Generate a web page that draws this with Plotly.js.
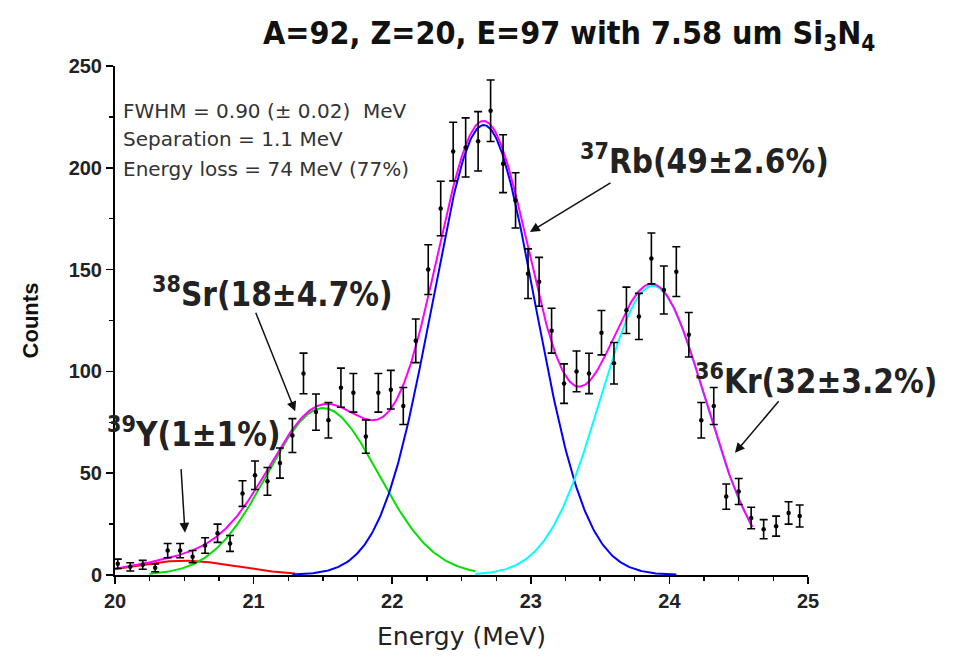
<!DOCTYPE html>
<html>
<head>
<meta charset="utf-8">
<script src="https://cdn.plot.ly/plotly-3.0.1.min.js"></script>
<style>
  html, body { margin: 0; padding: 0; background: #fff; }
  #chart { width: 955px; height: 661px; }
</style>
</head>
<body>
<div id="chart"></div>
<script>
// ---- measured spectrum (counts per bin) ----
const energy = [20.02, 20.11, 20.20, 20.29, 20.38, 20.47, 20.56, 20.65, 20.74, 20.83,
                20.92, 21.01, 21.10, 21.19, 21.28, 21.36, 21.45, 21.54, 21.63, 21.72,
                21.81, 21.90, 21.99, 22.08, 22.17, 22.26, 22.35, 22.44, 22.53, 22.62,
                22.71, 22.80, 22.89, 22.98, 23.06, 23.15, 23.24, 23.33, 23.42, 23.51,
                23.60, 23.69, 23.78, 23.87, 23.96, 24.05, 24.14, 24.23, 24.32, 24.41,
                24.50, 24.59, 24.68, 24.77, 24.86, 24.94];
const counts = [5.5, 4, 5, 3.5, 12, 12, 9, 14.5, 20.5, 15.5,
                40, 49, 46, 55, 68.5, 99, 80, 76, 92, 89.5,
                68, 89.5, 91, 83, 115, 150, 180, 208, 210, 213,
                228, 202, 184, 148, 144, 120, 94, 100, 99, 119,
                104, 130, 127, 155.5, 140, 149, 118, 76, 83, 38.5,
                41, 28, 22.5, 24, 30.5, 29];
const countErr = [2.3, 2.0, 2.2, 1.9, 3.5, 3.5, 3.0, 3.8, 4.5, 3.9,
                  6.3, 7.0, 6.8, 7.4, 8.3, 10.0, 8.9, 8.7, 9.6, 9.5,
                  8.2, 9.5, 9.5, 9.1, 10.7, 12.2, 13.4, 14.4, 14.5, 14.6,
                  15.1, 14.2, 13.6, 12.2, 12.0, 11.0, 9.7, 10.0, 9.9, 10.9,
                  10.2, 11.4, 11.3, 12.5, 11.8, 12.2, 10.9, 8.7, 9.1, 6.2,
                  6.4, 5.3, 4.7, 4.9, 5.5, 5.4];

// ---- Gaussian fit components ----
const compNames  = ['39Y', '38Sr', '37Rb', '36Kr'];
const compCenter = [20.50, 21.50, 22.66, 23.88];
const compSigma  = [0.38, 0.40, 0.37, 0.38];
const compAmp    = [7.0, 82, 221, 142];
const compStart  = [20.0, 20.25, 21.28, 22.60];
const compEnd    = [21.3, 22.60, 24.05, 24.60];
const totalStart = 20.0, totalEnd = 24.6;

// ---- labels ----
const titleText = 'A=92, Z=20, E=97 with 7.58 um Si<sub>3</sub>N<sub>4</sub>';
const xTitle = 'Energy (MeV)';
const yTitle = 'Counts';
const infoLines = ['FWHM = 0.90 (\u00b1 0.02)  MeV', 'Separation = 1.1 MeV', 'Energy loss = 74 MeV (77%)'];
const peakLabels = ['<sup>39</sup>Y(1\u00b11%)', '<sup>38</sup>Sr(18\u00b14.7%)',
                    '<sup>37</sup>Rb(49\u00b12.6%)', '<sup>36</sup>Kr(32\u00b13.2%)'];

// styles
const compColors = ['#ff0000', '#00e000', '#0000ff', '#00ffff'];
const totalColor = '#ff00ff';
const narrow = '"Liberation Sans Narrow", "Arial Narrow", "DejaVu Sans Condensed", sans-serif';
const arial = '"Liberation Sans", Arial, sans-serif';
const dejavu = '"DejaVu Sans", sans-serif';

function gauss(x, i) {
  const d = (x - compCenter[i]) / compSigma[i];
  return compAmp[i] * Math.exp(-0.5 * d * d);
}
function sampleRange(a, b, n) {
  const xs = [];
  for (let k = 0; k <= n; k++) xs.push(a + (b - a) * k / n);
  return xs;
}

const traces = [];
for (let i = 0; i < compNames.length; i++) {
  const xs = sampleRange(compStart[i], compEnd[i], 300);
  traces.push({
    x: xs, y: xs.map(x => gauss(x, i)), type: 'scatter', mode: 'lines',
    name: compNames[i], line: {color: compColors[i], width: 2}, hoverinfo: 'skip'
  });
}
const tx = sampleRange(totalStart, totalEnd, 600);
traces.push({
  x: tx, y: tx.map(x => compNames.reduce((s, _, i) => s + gauss(x, i), 0)),
  type: 'scatter', mode: 'lines', name: 'Sum',
  line: {color: totalColor, width: 2}, hoverinfo: 'skip'
});
traces.push({
  x: energy, y: counts, type: 'scatter', mode: 'markers', name: 'Data',
  marker: {color: '#000', size: 4.5},
  error_y: {type: 'data', array: countErr, visible: true, color: '#000', thickness: 1.6, width: 4}
});

// annotation positions
const infoX = 20.04, infoY = [228, 214, 199.5];
const labelRef = ['paper', 'x', 'x', 'x'];
const labelX = [-0.0144, 20.25, 23.34, 24.17];
const labelY = [70, 139, 204, 96];
const arrowHeadX = [20.505, 21.30, 22.994, 24.473];
const arrowHeadY = [20.8, 80.4, 168.5, 60];
const arrowAx = [-4, -40, 82, 45];
const arrowAy = [-65, -100, -50, -53];

const annotations = [];
infoLines.forEach((t, k) => annotations.push({
  x: infoX, y: infoY[k], xref: 'x', yref: 'y', text: t, showarrow: false,
  xanchor: 'left', yanchor: 'middle', font: {family: dejavu, size: 20, color: '#333'}
}));
peakLabels.forEach((t, k) => annotations.push({
  x: labelX[k], y: labelY[k], xref: labelRef[k], yref: 'y', text: t, showarrow: false,
  xanchor: 'left', yanchor: 'middle', font: {family: narrow, size: 33, color: '#222', weight: 'bold'}
}));
arrowHeadX.forEach((x, k) => annotations.push({
  x: x, y: arrowHeadY[k], xref: 'x', yref: 'y', text: '', showarrow: true,
  ax: arrowAx[k], ay: arrowAy[k], arrowhead: 2, arrowsize: 1.3, arrowwidth: 1.5, arrowcolor: '#111'
}));

const axisCommon = {
  showgrid: false, zeroline: false, showline: true, linecolor: '#000', linewidth: 2,
  ticks: 'outside', ticklen: 7, tickwidth: 1.6, tickcolor: '#000', mirror: false,
  tickfont: {family: arial, size: 20, color: '#222', weight: 'bold'}
};

const layout = {
  width: 955, height: 661,
  margin: {l: 115, r: 147, t: 66, b: 86},
  paper_bgcolor: '#fff', plot_bgcolor: '#fff',
  showlegend: false,
  title: {
    text: titleText, xref: 'container', yref: 'container', x: 0.596, y: 0.95,
    xanchor: 'center', yanchor: 'middle',
    font: {family: narrow, size: 32, color: '#111', weight: 'bold'}
  },
  xaxis: Object.assign({}, axisCommon, {
    range: [20, 25], dtick: 1, tick0: 20,
    minor: {dtick: 0.25, ticks: 'outside', ticklen: 4, tickwidth: 1.3, tickcolor: '#000'},
    title: {text: xTitle, standoff: 16, font: {family: dejavu, size: 25, color: '#222'}}
  }),
  yaxis: Object.assign({}, axisCommon, {
    range: [0, 250], dtick: 50, tick0: 0,
    minor: {dtick: 25, ticks: 'outside', ticklen: 4, tickwidth: 1.3, tickcolor: '#000'},
    title: {text: yTitle, standoff: 24, font: {family: arial, size: 22, color: '#111', weight: 'bold'}}
  }),
  annotations: annotations
};

Plotly.newPlot('chart', traces, layout, {displayModeBar: false, staticPlot: true});
</script>
</body>
</html>
